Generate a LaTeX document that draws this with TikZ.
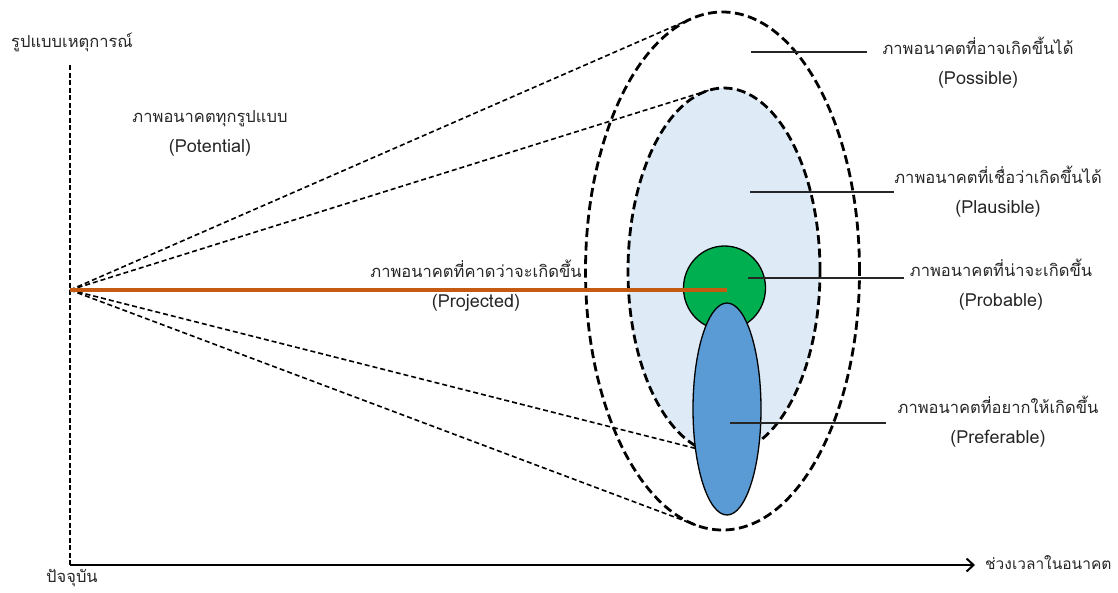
\documentclass[tikz,border=0pt]{standalone}
\usepackage{fontspec}
\setmainfont[Script=Thai]{Loma}
\usetikzlibrary{arrows.meta,shapes.geometric}
\definecolor{projline}{HTML}{C55A11}
\definecolor{probfill}{HTML}{00B050}
\definecolor{preffill}{HTML}{5B9BD5}
\definecolor{plausfill}{HTML}{DEEBF7}
\definecolor{txt}{HTML}{262626}
% English gloss under each Thai label, set a little larger
\newcommand{\eng}[1]{{\fontsize{18}{30}\selectfont #1}}
\begin{document}
\begin{tikzpicture}[x=1pt,y=-1pt,
  lbl/.style={text=txt,font=\fontsize{16.5}{30}\selectfont,align=center,inner sep=0pt},
  bigdash/.style={line width=2.8pt,dash pattern=on 9pt off 4.5pt},
  thindash/.style={line width=1.6pt,dash pattern=on 5pt off 3pt},
  leader/.style={line width=1.5pt,black!85},
  blob/.style={ellipse,draw=black,line width=1.3pt,inner sep=0pt}]
\useasboundingbox (0,0) rectangle (1118,592);

% axes
\coordinate (origin) at (70,290);
\coordinate (vtop) at (70,65);
\coordinate (corner) at (70,565);
\coordinate (tend) at (975,565);
\draw[line width=1.4pt,dash pattern=on 5pt off 2.5pt] (vtop) -- (corner);
\draw[line width=2pt,-{Straight Barb[length=7pt,width=13pt,line width=2pt]}] (corner) -- (tend);
\node[lbl] (yaxis) at (72,42) {รูปแบบเหตุการณ์};
\node[lbl] (now) at (72,578) {ปัจจุบัน};
\node[lbl,font=\fontsize{15.5}{30}\selectfont,anchor=west] (xaxis) at (985,563) {ช่วงเวลาในอนาคต};

% cone of futures
\node[blob,draw=none,minimum width=274pt,minimum height=518pt] (possible) at (722.5,271) {};
\node[blob,draw=none,fill=plausfill,minimum width=192pt,minimum height=366pt] (plausible) at (724,271) {};
\draw[bigdash] (722.5,271) ellipse [x radius=137pt,y radius=259pt];
\draw[bigdash] (724,271) ellipse [x radius=96pt,y radius=183pt];

\coordinate (possTop) at (691.7,18.5);
\coordinate (possBot) at (695.8,525);
\coordinate (plauTop) at (708.5,90.4);
\coordinate (plauBot) at (711.4,452.4);
\draw[thindash] (origin) -- (possTop);
\draw[thindash] (origin) -- (possBot);
\draw[thindash] (origin) -- (plauTop);
\draw[thindash] (origin) -- (plauBot);

\node[blob,fill=probfill,minimum width=82pt,minimum height=84pt] (probable) at (724.5,288) {};
\node[blob,fill=preffill,minimum width=68pt,minimum height=212pt] (preferable) at (727,409) {};

% projected future
\coordinate (projEnd) at (727,290);
\draw[projline,line width=3.5pt] (origin) -- (projEnd);
\node[lbl] (projected) at (476,286) {ภาพอนาคตที่คาดว่าจะเกิดขึ้น\\\eng{(Projected)}};
\node[lbl] (potential) at (210,133) {ภาพอนาคตทุกรูปแบบ\\\eng{(Potential)}};

% leaders and labels
\coordinate (l1a) at (751,52);  \coordinate (l1b) at (867,52);
\coordinate (l2a) at (750,192); \coordinate (l2b) at (894,192);
\coordinate (l3a) at (748,278); \coordinate (l3b) at (904,278);
\coordinate (l4a) at (730,423); \coordinate (l4b) at (886,423);
\draw[leader] (l1a) -- (l1b);
\draw[leader] (l2a) -- (l2b);
\draw[leader] (l3a) -- (l3b);
\draw[leader] (l4a) -- (l4b);
\node[lbl] (possLbl) at (978,63) {ภาพอนาคตที่อาจเกิดขึ้นได้\\\eng{(Possible)}};
\node[lbl] (plauLbl) at (998,192) {ภาพอนาคตที่เชื่อว่าเกิดขึ้นได้\\\eng{(Plausible)}};
\node[lbl] (probLbl) at (1001,285) {ภาพอนาคตที่น่าจะเกิดขึ้น\\\eng{(Probable)}};
\node[lbl] (prefLbl) at (998,422) {ภาพอนาคตที่อยากให้เกิดขึ้น\\\eng{(Preferable)}};
\end{tikzpicture}
\end{document}
